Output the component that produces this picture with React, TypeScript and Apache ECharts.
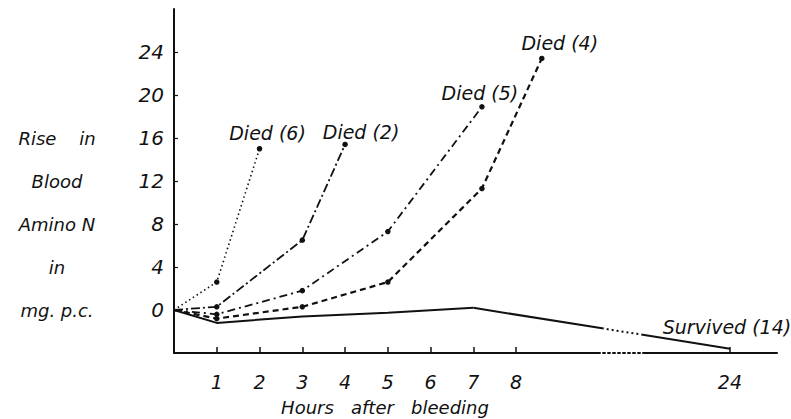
import React, { useEffect, useRef } from "react";
import * as echarts from "echarts";

// ---- data (hours after bleeding, rise in blood amino N in mg per cent) ----
const died6Hours = [0, 1, 2];
const died6Values = [0, 2.6, 15.0];
const died2Hours = [0, 1, 3, 4];
const died2Values = [0, 0.3, 6.5, 15.4];
const died5Hours = [0, 1, 3, 5, 7.2];
const died5Values = [0, -0.4, 1.8, 7.3, 18.9];
const died4Hours = [0, 1, 3, 5, 7.2, 8.6];
const died4Values = [0, -0.8, 0.3, 2.6, 11.3, 23.4];
const survivedHours = [0, 1, 3, 5, 7, 24];
const survivedValues = [0, -1.2, -0.6, -0.25, 0.2, -3.6];

const seriesLabels = ["Died (6)", "Died (2)", "Died (5)", "Died (4)", "Survived (14)"];
const xTickHours = [1, 2, 3, 4, 5, 6, 7, 8, 24];
const yTicks = [0, 4, 8, 12, 16, 20, 24];
const yTitleRows = ["Rise    in", "Blood", "Amino N", "in", "mg. p.c."];
const yTitleAt = [16, 12, 8, 4, 0];
const xTitle = "Hours   after   bleeding";

// broken x axis: hours beyond the break are shifted left by 11 h
const BREAK_AFTER = 10;
const BREAK_SHIFT = 11;
const toAxis = (h: number) => (h <= BREAK_AFTER ? h : h - BREAK_SHIFT);
const fromAxis = (v: number) => (v <= BREAK_AFTER ? v : v + BREAK_SHIFT);

const FONT = "DejaVu Sans";
const INK = "#111";

function pts(hours: number[], values: number[]) {
  return hours.map((h, i) => [toAxis(h), values[i]]);
}

function withEndLabel(data: number[][], text: string, lab: any) {
  return data.map((p, i) =>
    i === data.length - 1
      ? { value: p, label: { show: true, formatter: text, position: "top", ...lab } }
      : { value: p }
  );
}

export default function App() {
  const ref = useRef<HTMLDivElement>(null);
  useEffect(() => {
    if (!ref.current) return;
    const chart = echarts.init(ref.current, undefined, { renderer: "svg" });
    const labelBase = {
      fontFamily: FONT,
      fontStyle: "italic",
      fontSize: 19,
      color: INK,
    };
    const sym = (v: number[]) => (v[0] === 0 ? 0 : 5.5);
    const base = {
      type: "line",
      symbol: "circle",
      symbolSize: sym,
      itemStyle: { color: INK },
      label: labelBase,
      silent: true,
      z: 3,
    };
    const surv = pts(survivedHours, survivedValues);
    const dotted: number[] = [];
    for (let i = 0; i < 7; i++) dotted.push(2, 3);
    const survLateDash = [132, 3, ...dotted, 400, 0];
    const axisDash = [426, 3, ...[2, 3, 2, 3, 2, 3, 2, 3, 2, 3, 2, 3, 2, 3, 2, 3], 400, 0];

    chart.setOption({
      animation: false,
      grid: { left: 174, right: 14, top: 9, bottom: 66 },
      xAxis: {
        type: "value",
        min: 0,
        max: 14.1,
        axisLine: { show: true, onZero: false, lineStyle: { color: INK, width: 2, type: axisDash } },
        axisTick: {
          show: true,
          inside: true,
          length: 6,
          lineStyle: { color: INK, width: 1.5 },
          customValues: xTickHours.map(toAxis),
        },
        axisLabel: {
          customValues: xTickHours.map(toAxis),
          formatter: (v: number) => String(Math.round(fromAxis(v))),
          fontFamily: FONT,
          fontStyle: "italic",
          fontSize: 19,
          color: INK,
          margin: 19,
        },
        splitLine: { show: false },
      },
      yAxis: [
        {
          type: "value",
          min: -4,
          max: 28,
          axisLine: { show: true, onZero: false, lineStyle: { color: INK, width: 2 } },
          axisTick: {
            show: true,
            inside: true,
            length: 4,
            lineStyle: { color: INK, width: 1.2 },
            customValues: yTicks,
          },
          axisLabel: {
            customValues: yTicks,
            fontFamily: FONT,
            fontStyle: "italic",
            fontSize: 20,
            color: INK,
            margin: 10,
          },
          splitLine: { show: false },
        },
        {
          type: "value",
          position: "left",
          offset: 117,
          min: -4,
          max: 28,
          axisLine: { show: false },
          axisTick: { show: false },
          splitLine: { show: false },
          axisLabel: {
            customValues: yTitleAt,
            formatter: (v: number) => yTitleRows[yTitleAt.indexOf(v)] ?? "",
            align: "center",
            margin: 0,
            fontFamily: FONT,
            fontStyle: "italic",
            fontSize: 18,
            color: INK,
          },
        },
      ],
      graphic: [
        {
          type: "text",
          x: 385,
          y: 407,
          style: {
            text: xTitle,
            fontFamily: FONT,
            fontStyle: "italic",
            fontSize: 18,
            fill: INK,
            align: "center",
            verticalAlign: "middle",
          },
        },
      ],
      series: [
        {
          ...base,
          name: seriesLabels[0],
          lineStyle: { color: INK, width: 1.6, type: [1.5, 3] },
          data: withEndLabel(pts(died6Hours, died6Values), seriesLabels[0], { distance: 4, offset: [8, 0] }),
        },
        {
          ...base,
          name: seriesLabels[1],
          lineStyle: { color: INK, width: 1.8, type: [9, 3, 2, 3] },
          data: withEndLabel(pts(died2Hours, died2Values), seriesLabels[1], { distance: 0, offset: [16, 0] }),
        },
        {
          ...base,
          name: seriesLabels[2],
          lineStyle: { color: INK, width: 1.8, type: [8, 4, 2, 4] },
          data: withEndLabel(pts(died5Hours, died5Values), seriesLabels[2], { distance: 2, offset: [-2, 0] }),
        },
        {
          ...base,
          name: seriesLabels[3],
          lineStyle: { color: INK, width: 2.2, type: [6, 4] },
          data: withEndLabel(pts(died4Hours, died4Values), seriesLabels[3], { distance: 3, offset: [18, 0] }),
        },
        {
          ...base,
          name: seriesLabels[4],
          symbolSize: 0,
          lineStyle: { color: INK, width: 2, type: "solid" },
          data: surv.slice(0, 5),
        },
        {
          ...base,
          name: seriesLabels[4] + " late",
          symbolSize: 0,
          lineStyle: { color: INK, width: 2, type: survLateDash },
          data: withEndLabel(surv.slice(4), seriesLabels[4], { distance: 12, offset: [-3, 0] }),
        },
      ],
    });
    return () => chart.dispose();
  }, []);
  return (
    <div
      ref={ref}
      style={{ position: "fixed", left: 0, top: 0, width: 791, height: 419, background: "#fff" }}
    />
  );
}
